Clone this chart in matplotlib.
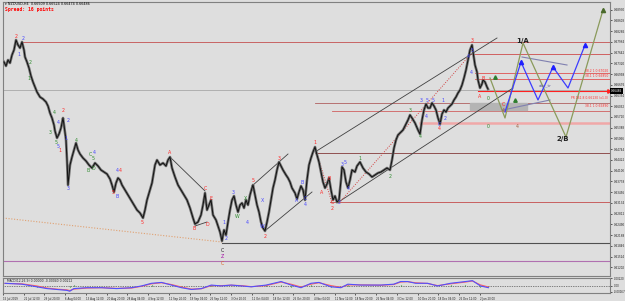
import matplotlib.pyplot as plt

# ---- price path (bar position, price) ----
bar_x = [4, 6, 8, 10, 12, 14, 16, 18, 20, 22, 24, 25, 27, 29, 31, 33, 35, 37, 40, 43,
         46, 48, 50, 52, 54, 55, 57, 59, 61, 63, 64, 66, 67, 68, 70, 72, 74, 76, 78, 80,
         83, 86, 89, 92, 95, 98, 101, 104, 107, 110, 112, 114, 116, 118, 120, 122, 125, 128, 131, 134,
         137, 140, 143, 145, 147, 150, 152, 155, 157, 160, 163, 166, 168, 170, 172, 175, 178, 181, 184, 187,
         190, 193, 195, 198, 201, 203, 205, 207, 209, 211, 213, 216, 218, 220, 222, 224, 226, 228, 230, 232,
         234, 236, 238, 240, 242, 244, 246, 248, 250, 252, 253, 255, 257, 259, 261, 263, 265, 267, 269, 271,
         273, 275, 277, 279, 281, 283, 286, 288, 290, 292, 295, 297, 299, 301, 303, 305, 307, 309, 311, 313,
         315, 317, 319, 321, 323, 325, 327, 329, 331, 333, 335, 337, 339, 341, 342, 344, 346, 348, 350, 352,
         355, 357, 360, 363, 366, 369, 372, 375, 378, 381, 384, 387, 390, 392, 394, 396, 398, 401, 403, 405,
         408, 410, 412, 415, 418, 420, 422, 424, 426, 428, 430, 432, 434, 436, 438, 440, 442, 444, 446, 448,
         450, 452, 454, 456, 458, 460, 462, 464, 466, 468, 470, 472, 474, 475, 477, 478, 480, 482, 483, 485,
         487, 488]
price = [0.6736, 0.6724, 0.6742, 0.6733, 0.6757, 0.6772, 0.6802, 0.6787, 0.6778, 0.6796, 0.6772, 0.6751, 0.6736, 0.6718, 0.6694, 0.6676, 0.6661, 0.6646, 0.6631, 0.6625,
         0.6616, 0.6604, 0.6583, 0.6568, 0.6547, 0.6529, 0.6508, 0.6520, 0.6538, 0.6568, 0.6547, 0.6502, 0.6442, 0.6367, 0.6427, 0.6451, 0.6472, 0.6493, 0.6472, 0.6460,
         0.6448, 0.6439, 0.6427, 0.6418, 0.6433, 0.6424, 0.6412, 0.6406, 0.6400, 0.6385, 0.6367, 0.6346, 0.6373, 0.6388, 0.6382, 0.6367, 0.6352, 0.6337, 0.6322, 0.6307,
         0.6292, 0.6283, 0.6268, 0.6292, 0.6322, 0.6352, 0.6373, 0.6427, 0.6442, 0.6427, 0.6433, 0.6424, 0.6442, 0.6451, 0.6418, 0.6391, 0.6367, 0.6352, 0.6337, 0.6322,
         0.6298, 0.6268, 0.6250, 0.6256, 0.6277, 0.6307, 0.6343, 0.6292, 0.6307, 0.6322, 0.6277, 0.6262, 0.6244, 0.6226, 0.6199, 0.6232, 0.6217, 0.6256, 0.6292, 0.6322,
         0.6334, 0.6307, 0.6286, 0.6307, 0.6313, 0.6298, 0.6322, 0.6307, 0.6337, 0.6358, 0.6367, 0.6337, 0.6307, 0.6286, 0.6256, 0.6238, 0.6229, 0.6256, 0.6286, 0.6322,
         0.6358, 0.6382, 0.6412, 0.6436, 0.6424, 0.6412, 0.6397, 0.6388, 0.6376, 0.6358, 0.6343, 0.6325, 0.6346, 0.6364, 0.6352, 0.6322, 0.6382, 0.6427, 0.6448, 0.6466,
         0.6481, 0.6457, 0.6436, 0.6406, 0.6376, 0.6358, 0.6370, 0.6388, 0.6352, 0.6322, 0.6334, 0.6316, 0.6322, 0.6382, 0.6421, 0.6412, 0.6376, 0.6358, 0.6382, 0.6412,
         0.6406, 0.6424, 0.6436, 0.6418, 0.6406, 0.6400, 0.6391, 0.6397, 0.6403, 0.6406, 0.6412, 0.6418, 0.6412, 0.6442, 0.6478, 0.6502, 0.6517, 0.6526, 0.6532, 0.6544,
         0.6562, 0.6577, 0.6568, 0.6553, 0.6532, 0.6520, 0.6562, 0.6592, 0.6610, 0.6598, 0.6598, 0.6613, 0.6604, 0.6592, 0.6568, 0.6550, 0.6580, 0.6592, 0.6586, 0.6598,
         0.6604, 0.6610, 0.6622, 0.6631, 0.6643, 0.6652, 0.6667, 0.6688, 0.6712, 0.6742, 0.6772, 0.6787, 0.6748, 0.6727, 0.6706, 0.6682, 0.6658, 0.6670, 0.6682, 0.6676,
         0.6661, 0.6655]

# ---- horizontal levels: (start bar, price, colour, width) ----
levels = [
    (22, 0.6795, "#c86464", 0.7),
    (470, 0.6760, "#d06060", 0.7),
    (475, 0.6702, "#e05050", 0.6),
    (475, 0.6685, "#e05050", 0.6),
    (3, 0.6652, "#a8a8a8", 0.6),
    (478, 0.6649, "#ff2020", 0.8),
    (315, 0.6613, "#b06060", 0.6),
    (332, 0.6589, "#d06060", 0.6),
    (420, 0.6553, "#f0a8a8", 1.8),
    (315, 0.6463, "#905050", 0.7),
    (330, 0.6316, "#c86060", 0.7),
    (222, 0.6193, "#505050", 0.8),
    (3, 0.6139, "#b070b0", 0.8),
]
level_notes = [(0.6704, "38.2 1.0.67020"), (0.6687, "38.1 1.0.66850"),
               (0.6622, "PR 161.8 0.66130 (x1.0)"), (0.6598, "38.1 1.0.65890")]

# ---- trend lines: (x0, p0, x1, p1) ----
trend_lines = [
    (170, 0.6451, 205, 0.6349),
    (195, 0.6244, 207, 0.6256),
    (252, 0.6364, 288, 0.6460),
    (266, 0.6232, 312, 0.6346),
    (315, 0.6466, 497, 0.6808),
    (337, 0.6313, 513, 0.6658),
]
red_dotted = [(315, 0.6481, 332, 0.6313), (339, 0.6313, 470, 0.6757)]
tan_dotted = (3, 0.6268, 222, 0.6196)

# ---- projections ----
olive_x = [490, 505, 523, 566, 603]
olive_p = [0.6688, 0.6568, 0.6793, 0.6511, 0.6892]
blue_x = [505, 521, 538, 553, 568, 585]
blue_p = [0.6586, 0.6736, 0.6622, 0.6721, 0.6658, 0.6787]
abc_upper = (522, 0.6751, 567, 0.6727)
abc_lower = (503, 0.6592, 550, 0.6622)

# ---- wave labels: (bar, price, text, colour) ----
R, B, G, K = "#ff2828", "#4848ff", "#2e8b2e", "#202020"
wave_labels = [
    (16, 0.6811, "2", R), (23, 0.6808, "2", B), (19, 0.6757, "1", B), (30, 0.6733, "2", G),
    (29, 0.6688, "1", G), (63, 0.6592, "2", R), (54, 0.6583, "4", G), (50, 0.6526, "3", G),
    (58, 0.6553, "4", B), (56, 0.6493, "5", G), (58, 0.6481, "5", B), (60, 0.6469, "1", R),
    (68, 0.6562, "2", B), (66, 0.6508, "1", B), (68, 0.6355, "3", B), (76, 0.6502, "4", G),
    (90, 0.6460, "C", G), (94, 0.6463, "4", B), (93, 0.6445, "5", G), (88, 0.6409, "B", G),
    (93, 0.6418, "D", G), (113, 0.6343, "5", R), (117, 0.6331, "B", B), (117, 0.6409, "4", B),
    (120, 0.6409, "4", R), (142, 0.6253, "5", R), (170, 0.6463, "A", R), (194, 0.6238, "B", R),
    (205, 0.6355, "C", R), (211, 0.6328, "E", R), (207, 0.6247, "D", R), (224, 0.6253, "1", B),
    (226, 0.6208, "2", B), (222, 0.6172, "C", K), (222, 0.6154, "Z", "#a000a0"), (222, 0.6133, "C", "#e06020"),
    (233, 0.6343, "3", B), (237, 0.6271, "W", G), (245, 0.6328, "X", G), (247, 0.6256, "4", B),
    (253, 0.6379, "5", R), (262, 0.6322, "X", B), (262, 0.6241, "W", B), (265, 0.6214, "2", R),
    (279, 0.6448, "3", R), (297, 0.6322, "A", B), (302, 0.6373, "B", B), (305, 0.6328, "C", B),
    (305, 0.6307, "4", B), (315, 0.6493, "1", R), (322, 0.6346, "A", R), (329, 0.6388, "B", R),
    (332, 0.6316, "C", R), (332, 0.6298, "2", R), (339, 0.6313, "2", B), (342, 0.6430, "3", B),
    (345, 0.6436, "5", B), (348, 0.6358, "4", B), (360, 0.6445, "1", G), (390, 0.6394, "2", G),
    (410, 0.6590, "3", G), (420, 0.6514, "4", G), (421, 0.6619, "3", B), (427, 0.6622, "5", B),
    (426, 0.6571, "4", B), (433, 0.6619, "5", B), (443, 0.6619, "1", B), (445, 0.6565, "2", B),
    (439, 0.6550, "C", B), (439, 0.6535, "4", R), (472, 0.6799, "3", R), (472, 0.6772, "5", B),
    (468, 0.6751, "4", B), (471, 0.6703, "4", B), (480, 0.6634, "A", R), (483, 0.6688, "B", R),
    (488, 0.6628, "0", G), (488, 0.6544, "0", G), (503, 0.6607, "C", R), (503, 0.6589, "4", "#a06040"),
    (517, 0.6541, "4", "#a06040"),
]

# ---- oscillator ----
osc_x = [3, 20, 35, 45, 55, 65, 68, 72, 85, 100, 115, 130, 140, 150, 160, 170, 180, 190, 200, 210,
         220, 230, 240, 250, 265, 280, 290, 300, 310, 318, 330, 340, 347, 360, 380, 393, 400, 407, 415, 427,
         437, 450, 465, 472, 480, 488]
macd = [0.00075, 0.0005, -0.00025, -0.00075, -0.001, -0.00125, -0.0015, -0.00075, -0.0005, -0.0005,
        -0.00075, -0.0005, 0.0, 0.00075, 0.001, 0.00025, -0.0005, -0.001, -0.00075, 0.00025,
        0.0, 0.00025, 0.0, -0.00025, 0.00025, 0.00125, 0.00025, -0.0005, 0.00075, 0.001,
        -0.00025, -0.0005, 0.0005, 0.00025, 0.00025, 0.0005, 0.00125, 0.00125, 0.00075, 0.00075,
        0.0, 0.00075, 0.00125, 0.0015, 0.0, -0.0005]
signal = [0.0007, 0.0006, 0.0, -0.0006, -0.0009, -0.0011, -0.0013, -0.0009, -0.0006, -0.0005,
          -0.0007, -0.0006, -0.0001, 0.0006, 0.0009, 0.0004, -0.0003, -0.0009, -0.0008, 0.0001,
          0.0001, 0.0002, 0.0001, -0.0002, 0.0001, 0.0011, 0.0005, -0.0003, 0.0005, 0.0009,
          0.0001, -0.0004, 0.0003, 0.0003, 0.0002, 0.0004, 0.0011, 0.0012, 0.0009, 0.0007,
          0.0001, 0.0006, 0.0011, 0.0014, 0.0003, -0.0003]

date_labels = ["15 Jul 2019", "22 Jul 12:00", "29 Jul 20:00", "6 Aug 04:00", "13 Aug 12:00",
               "20 Aug 20:00", "28 Aug 04:00", "4 Sep 12:00", "11 Sep 20:00", "19 Sep 04:00",
               "26 Sep 12:00", "3 Oct 20:00", "11 Oct 04:00", "18 Oct 12:00", "25 Oct 20:00",
               "4 Nov 04:00", "11 Nov 12:00", "18 Nov 20:00", "26 Nov 04:00", "3 Dec 12:00",
               "10 Dec 20:00", "18 Dec 04:00", "26 Dec 12:00", "2 Jan 20:00"]

BG = "#dedede"
W, H = 625, 301
fig = plt.figure(figsize=(W / 100, H / 100), dpi=100, facecolor=BG)


def box(x0, y0, x1, y1):
    return [x0 / W, 1 - y1 / H, (x1 - x0) / W, (y1 - y0) / H]


ax = fig.add_axes(box(3, 2, 610, 276))
ax.set_facecolor(BG)
ax.set_xlim(3, 610)
ax.set_ylim(0.6094, 0.6916)
for s in ax.spines.values():
    s.set_color("#808080")
    s.set_linewidth(0.8)

# levels
for x0, p, c, lw in levels:
    ax.plot([x0, 610], [p, p], color=c, lw=lw, zorder=1)
for p, t in level_notes:
    ax.text(608, p, t, color="#ff3030", fontsize=2.2, ha="right", va="bottom", zorder=5)
ax.plot(609, 0.6649, marker=">", color="#ff2020", ms=2.5, clip_on=False)
ax.add_patch(plt.Rectangle((470, 0.6592), 57, 0.0021, color="#b4b4b4", zorder=1.5))

# lines
for x0, p0, x1, p1 in trend_lines:
    ax.plot([x0, x1], [p0, p1], color="#404040", lw=0.6, zorder=2)
for x0, p0, x1, p1 in red_dotted:
    ax.plot([x0, x1], [p0, p1], color="#d04040", lw=0.7, ls=(0, (1, 1.5)), zorder=2)
ax.plot([tan_dotted[0], tan_dotted[2]], [tan_dotted[1], tan_dotted[3]],
        color="#e0a070", lw=0.8, ls=(0, (1, 1.5)), zorder=2)

# price
ax.plot(bar_x, price, color="#707070", lw=1.9, zorder=3)
ax.plot(bar_x, price, color="#111111", lw=0.7, zorder=3.1)

# projections
ax.plot(olive_x, olive_p, color="#8a9a5b", lw=0.9, zorder=3)
ax.plot(olive_x[-1], olive_p[-1], marker="^", color="#4a6a2b", ms=3, zorder=4)
ax.plot(blue_x, blue_p, color="#3c3cff", lw=0.9, zorder=3)
ax.plot(blue_x[1::2], blue_p[1::2], ls="none", marker="^", color="#2020ff", ms=3, zorder=4)
ax.plot([abc_upper[0], abc_upper[2]], [abc_upper[1], abc_upper[3]], color="#8080b0", lw=0.8)
ax.plot([abc_lower[0], abc_lower[2]], [abc_lower[1], abc_lower[3]], color="#8080b0", lw=0.8)
ax.plot([495, 515], [0.6691, 0.6622], ls="none", marker="^", color="#2e7d2e", ms=2.5, zorder=4)
ax.text(545, 0.6667, "abc_tr", color="#6060a0", fontsize=3.0, ha="center", va="center")
ax.text(523, 0.6799, "1/A", color=K, fontsize=5, fontweight="bold", ha="center", va="center")
ax.text(563, 0.6505, "2/B", color=K, fontsize=5, fontweight="bold", ha="center", va="center")

for x, p, t, c in wave_labels:
    ax.text(x, p, t, color=c, fontsize=3.4, ha="center", va="center", zorder=5)

# header
ax.text(5, 0.6909, "\u25be NZDUSD,H4  0.66509 0.66524 0.66474 0.66486", fontsize=2.4,
        color="#000000", va="center")
ax.text(5, 0.6894, "Spread: 16 points", fontsize=3.4, color="#ff0000",
        fontweight="bold", va="center", family="DejaVu Sans Mono")

# right axis
ticks = [0.68930 - 0.00322 * k for k in range(25)]
ax.yaxis.tick_right()
ax.set_yticks(ticks)
ax.set_yticklabels([f"{t:.5f}" for t in ticks], fontsize=2.0)
ax.tick_params(axis="y", length=1.5, width=0.5, pad=1, colors="#202020")
ax.set_xticks([])
ax.text(611, 0.6649, "0.66486", fontsize=2.0, color="white", va="center", ha="left",
        bbox=dict(facecolor="black", edgecolor="none", pad=0.5), clip_on=False, zorder=6)

# oscillator pane
ox = fig.add_axes(box(3, 278, 610, 293))
ox.set_facecolor(BG)
ox.set_xlim(3, 610)
ox.set_ylim(-0.0020, 0.00225)
for s in ox.spines.values():
    s.set_color("#808080")
    s.set_linewidth(0.8)
ox.axhline(0, color="#202020", lw=0.5, ls=(0, (1, 1.5)))
hist = [m - s for m, s in zip(macd, signal)]
ox.vlines(osc_x, 0, hist, color="#2e8b2e", lw=0.8)
ox.plot(osc_x, signal, color="#ff6060", lw=0.8)
ox.plot(osc_x, macd, color="#5050ff", lw=0.8)
ox.text(5, 0.0015, "MACD(12,26,9) 0.00000 -0.00040 0.00212", fontsize=2.2, color="#202020",
        va="center")
ox.yaxis.tick_right()
ox.set_yticks([0.0022, 0.0, -0.00167])
ox.set_yticklabels(["0.00220", "0.00", "-0.00167"], fontsize=1.9)
ox.tick_params(axis="y", length=1.5, width=0.5, pad=1, colors="#202020")

date_pos = [1 + 20.8 * k for k in range(len(date_labels))]
ox.set_xticks(date_pos)
ox.set_xticklabels(date_labels, fontsize=1.9, ha="left")
ox.tick_params(axis="x", length=1.5, width=0.5, pad=1.2, colors="#202020")

fig.savefig("out.png", dpi=100, facecolor=BG)
